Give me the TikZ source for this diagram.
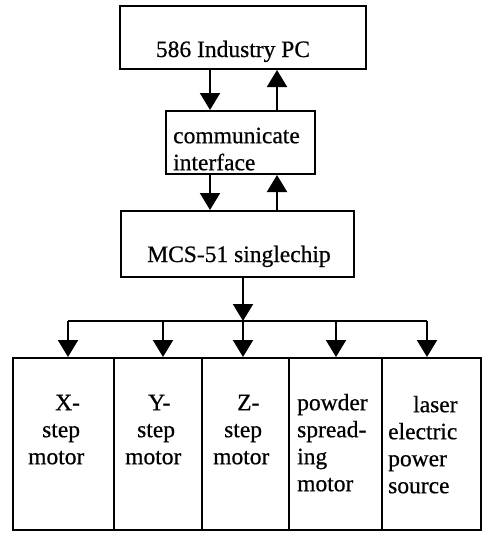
\documentclass[tikz,border=0pt]{standalone}
\usepackage{fontspec}
\setmainfont{Liberation Serif}
\newfontfamily\heavyserif[FakeBold=0.6]{Liberation Serif}
\usetikzlibrary{arrows.meta}
\begin{document}
\begin{tikzpicture}[x=1pt,y=-1pt,
  box/.style={draw, line width=2pt, inner sep=0pt},
  lbl/.style={inner sep=0pt, font=\heavyserif\fontsize{23.5}{27}\selectfont},
  arr/.style={line width=2pt, -{Triangle[width=20pt,length=17pt]}},
  ln/.style={line width=2pt}]
\useasboundingbox[fill=white] (0,0) rectangle (487,535);
% boxes
\node[box, minimum width=246pt, minimum height=63pt] (pc) at (243,37.5) {};
\node[box, minimum width=149pt, minimum height=63pt] (comm) at (240.5,142.5) {};
\node[box, minimum width=233pt, minimum height=66pt] (mcs) at (237.5,244) {};
\node[box, minimum width=101pt, minimum height=172pt] (m1) at (63.5,444) {};
\node[box, minimum width=88pt, minimum height=172pt] (m2) at (158,444) {};
\node[box, minimum width=87pt, minimum height=172pt] (m3) at (245.5,444) {};
\node[box, minimum width=93pt, minimum height=172pt] (m4) at (335.5,444) {};
\node[box, minimum width=99pt, minimum height=172pt] (m5) at (431.5,444) {};
% texts
\node[lbl, anchor=base] (pctext) at (233,57) {586 Industry PC};
\node[lbl, anchor=north west, align=left] (commtext) at (173,124.1) {\strut communicate\\interface};
\node[lbl, anchor=base] (mcstext) at (239,262) {MCS-51 singlechip};
\node[lbl, anchor=north west, align=left] (t1) at (28,391.1) {\strut\hspace*{27pt}X-\\\hspace*{14pt}step\\motor};
\node[lbl, anchor=north west, align=left] (t2) at (125,391.1) {\strut\hspace*{23pt}Y-\\\hspace*{12pt}step\\motor};
\node[lbl, anchor=north west, align=left] (t3) at (213,391.1) {\strut\hspace*{24pt}Z-\\\hspace*{11pt}step\\motor};
\node[lbl, anchor=north west, align=left] (t4) at (297,391.1) {\strut powder\\spread-\\ing\\motor};
\node[lbl, anchor=north west, align=left] (t5) at (388,393.1) {\strut\hspace*{25pt}laser\\electric\\power\\source};
% connectors
\coordinate (xd) at (210,0);
\coordinate (xu) at (277,0);
\draw[arr] (pc.south -| xd) -- (comm.north -| xd);
\draw[arr] (comm.north -| xu) -- (pc.south -| xu);
\draw[arr] (comm.south -| xd) -- (mcs.north -| xd);
\draw[arr] (mcs.north -| xu) -- (comm.south -| xu);
\coordinate (j) at (243,321);
\draw[arr] (mcs.south -| j) -- (j);
\coordinate (b1) at (68,321);
\coordinate (b2) at (163,321);
\coordinate (b3) at (243,321);
\coordinate (b4) at (336,321);
\coordinate (b5) at (427,321);
\draw[ln] (b1) -- (b5);
\draw[arr] (b1) -- (b1 |- m1.north);
\draw[arr] (b2) -- (b2 |- m2.north);
\draw[arr] (b3) -- (b3 |- m3.north);
\draw[arr] (b4) -- (b4 |- m4.north);
\draw[arr] (b5) -- (b5 |- m5.north);
\end{tikzpicture}
\end{document}
